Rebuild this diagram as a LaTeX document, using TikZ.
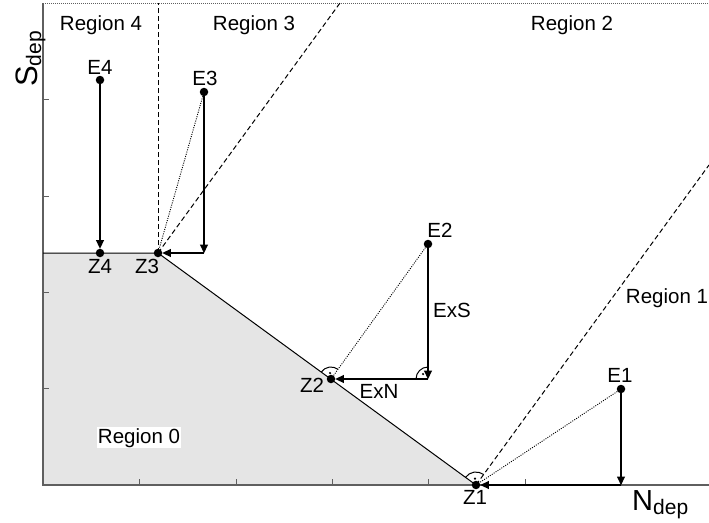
\documentclass[tikz,border=0pt]{standalone}
\usepackage{fontspec}
\setmainfont{Liberation Sans}
\usetikzlibrary{arrows.meta}
\definecolor{axisgray}{RGB}{95,95,95}
\definecolor{regionfill}{RGB}{229,229,229}
\begin{document}
\begin{tikzpicture}[x=1pt,y=1pt,
  lbl/.style={font=\fontsize{20.5}{24}\selectfont, inner sep=0pt, anchor=base},
  dot/.style={circle, fill=black, inner sep=0pt, minimum size=8.5pt},
  move/.style={line width=2.6pt, -{Triangle[length=9pt,width=7.5pt]}, shorten >=-0.5pt},
  proj/.style={line width=0.9pt, dash pattern=on 1pt off 1.3pt},
  bound/.style={line width=1pt, dash pattern=on 5pt off 3pt},
  axisline/.style={line width=1.4pt, draw=axisgray},
  tick/.style={line width=1pt, draw=axisgray},
  rang/.style={line width=1pt},
  axlbl/.style={inner sep=0pt, anchor=base west}]
\useasboundingbox (0,0) rectangle (709,-522);
% coordinates
\coordinate (O) at (43,-485);
\coordinate (TL) at (43,-3);
\coordinate (TR) at (709,-3);
\coordinate (BR) at (709,-485);
\coordinate (L4) at (43,-253);
\coordinate (C3) at (204,-253);
\coordinate (C2) at (428,-379);
\coordinate (C1) at (621,-485);
\coordinate (V3) at (158,-3);
\coordinate (D3) at (340,-3);
\coordinate (D1) at (709,-165);
% region 0
\fill[regionfill] (L4) -- (158,-253) -- (476,-485) -- (O) -- cycle;
% axes
\draw[axisgray, line width=0.8pt, dash pattern=on 1pt off 1pt] (TL) -- (TR);
\draw[axisline] (TL) -- (O) -- (BR);
\foreach \yy in {99,196,292,388} \draw[tick] (43,-\yy) -- (49,-\yy);
\foreach \xx in {139,236,332,428,525,621} \draw[tick] (\xx,-485) -- (\xx,-479);
% dots
\node[dot] (Z4) at (100,-253) {};
\node[dot] (Z3) at (158,-253) {};
\node[dot] (Z2) at (331,-379) {};
\node[dot] (Z1) at (476,-485) {};
\node[dot] (E4) at (100,-80) {};
\node[dot] (E3) at (204,-92) {};
\node[dot] (E2) at (428,-244) {};
\node[dot] (E1) at (621,-389) {};
% boundary of region 0
\draw[line width=1pt] (L4) -- (Z3.center) -- (Z1.center);
% region boundaries
\draw[bound] (Z3.center) -- (V3);
\draw[bound] (Z3.center) -- (D3);
\draw[bound] (Z1.center) -- (D1);
% projections
\draw[proj] (E3) -- (Z3);
\draw[proj] (E2) -- (Z2);
\draw[proj] (E1) -- (Z1);
% moves
\draw[move] (E4) -- (Z4);
\draw[move] (E3) -- (C3);
\draw[move] (C3) -- (Z3);
\draw[move] (E2) -- (C2);
\draw[move] (C2) -- (Z2);
\draw[move] (E1) -- (C1);
\draw[move] (C1) -- (Z1);
% right angle marks
\draw[rang] ([shift={(54:12pt)}]Z2.center) arc[start angle=54, end angle=144, radius=12pt];
\fill ([shift={(99:6pt)}]Z2.center) circle[radius=1.2pt];
\draw[rang] ([shift={(54:13pt)}]Z1.center) arc[start angle=54, end angle=144, radius=13pt];
\fill ([shift={(99:6.5pt)}]Z1.center) circle[radius=1.2pt];
\draw[rang] ([shift={(90:12pt)}]C2) arc[start angle=90, end angle=180, radius=12pt];
\fill ([shift={(135:7pt)}]C2) circle[radius=1.2pt];
% labels
\node[lbl] (r4) at (101,-30) {Region 4};
\node[lbl] (r3) at (254,-30) {Region 3};
\node[lbl] (r2) at (572,-30) {Region 2};
\node[lbl] (r1) at (667,-303) {Region 1};
\node[lbl, fill=white, inner sep=1pt] (r0) at (139,-443) {Region 0};
\node[lbl] (le4) at (100,-74) {E4};
\node[lbl] (le3) at (205,-85) {E3};
\node[lbl] (le2) at (440,-237) {E2};
\node[lbl] (le1) at (620,-382) {E1};
\node[lbl] (lz4) at (100,-273) {Z4};
\node[lbl] (lz3) at (147,-273) {Z3};
\node[lbl] (lz2) at (312,-392) {Z2};
\node[lbl] (lz1) at (475,-504) {Z1};
\node[lbl] (exs) at (452,-317) {ExS};
\node[lbl] (exn) at (379,-398) {ExN};
\node[axlbl] (nlab) at (632,-510) {\fontsize{29}{32}\selectfont N\raisebox{-4pt}{\fontsize{21}{24}\selectfont dep}};
\node[axlbl, rotate=90] (slab) at (37,-87) {\fontsize{31}{34}\selectfont S\raisebox{-4pt}{\fontsize{21}{24}\selectfont dep}};
\end{tikzpicture}
\end{document}
